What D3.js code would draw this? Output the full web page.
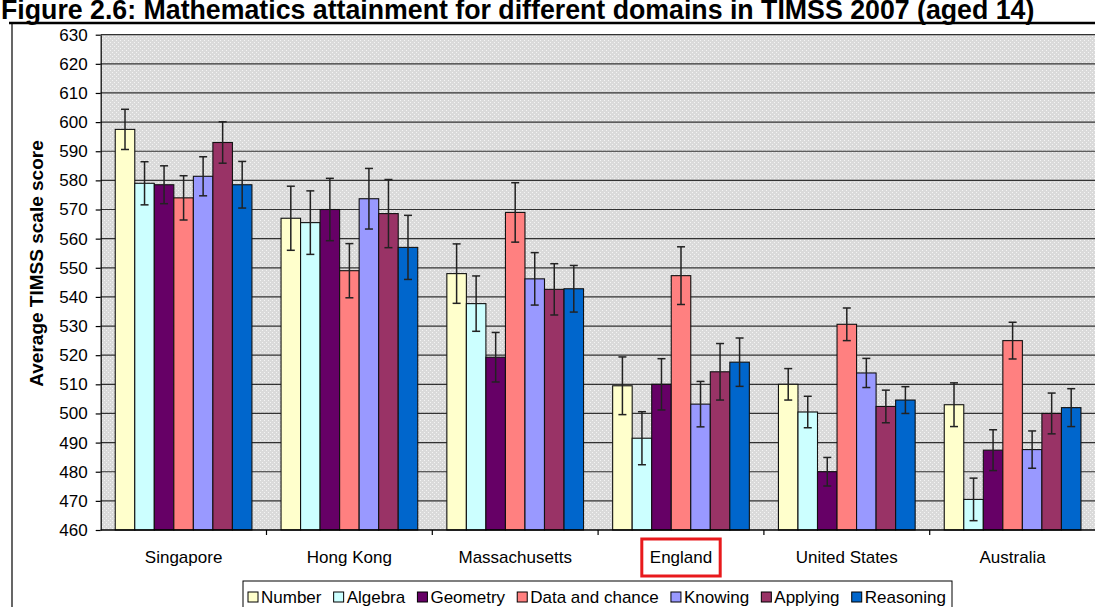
<!DOCTYPE html>
<html><head><meta charset="utf-8">
<script src="https://cdn.jsdelivr.net/npm/d3@7"></script>
<style>body{margin:0;background:#fff}svg{display:block;font-family:"Liberation Sans",Arial,sans-serif}</style>
</head><body><svg id="c" width="1095" height="607"></svg>
<script>
const titleText = "Figure 2.6: Mathematics attainment for different domains in TIMSS 2007 (aged 14)";
const yTitle = "Average TIMSS scale score";
const categories = ["Singapore","Hong Kong","Massachusetts","England","United States","Australia"];
const seriesNames = ["Number","Algebra","Geometry","Data and chance","Knowing","Applying","Reasoning"];
const seriesColors = ["#FFFFCC","#CCFFFF","#660066","#FF8080","#9999FF","#993366","#0066CC"];
const yTicks = [460,470,480,490,500,510,520,530,540,550,560,570,580,590,600,610,620,630];
const highlighted = "England";

// mean scores per domain, in category order
const numberVals    = [597.5, 567.0, 548.0, 509.5, 510.0, 503.0];
const algebraVals   = [579.0, 565.5, 537.7, 491.5, 500.5, 470.5];
const geometryVals  = [578.5, 570.0, 519.3, 510.0, 480.0, 487.4];
const dataVals      = [574.0, 549.0, 569.0, 547.3, 530.6, 525.0];
const knowingVals   = [581.4, 573.7, 546.2, 503.2, 513.9, 487.6];
const applyingVals  = [593.0, 568.6, 542.6, 514.3, 502.4, 500.0];
const reasoningVals = [578.5, 557.0, 542.8, 517.6, 504.6, 502.0];

// error bar half-widths
const numberErr    = [6.9, 11.0, 10.2, 9.9, 5.4, 7.5];
const algebraErr   = [7.4, 10.9, 9.5, 9.1, 5.4, 7.3];
const geometryErr  = [6.5, 10.7, 8.5, 8.8, 4.9, 7.0];
const dataErr      = [7.6, 9.3, 10.2, 9.9, 5.6, 6.3];
const knowingErr   = [6.7, 10.4, 9.0, 7.8, 5.0, 6.4];
const applyingErr  = [7.1, 11.7, 8.8, 9.7, 5.6, 7.0];
const reasoningErr = [8.0, 11.0, 8.0, 8.3, 4.6, 6.5];

const allVals = [numberVals, algebraVals, geometryVals, dataVals, knowingVals, applyingVals, reasoningVals];
const allErr  = [numberErr, algebraErr, geometryErr, dataErr, knowingErr, applyingErr, reasoningErr];

const svg = d3.select("#c");
const M = {left:100.7, right:1095.5, top:34.7, bottom:530};

const y = d3.scaleLinear().domain([460,630]).range([M.bottom, M.top]);
const x0 = d3.scaleBand().domain(categories).range([M.left, M.right]).paddingInner(0.1755).paddingOuter(0.0877);
const x1 = d3.scaleBand().domain(seriesNames).range([0, x0.bandwidth()]).padding(0);
const color = d3.scaleOrdinal().domain(seriesNames).range(seriesColors);

// title
const title = svg.append("text").attr("x",1).attr("y",18.5)
  .attr("font-weight","bold").attr("font-size",20).attr("fill","#000").text(titleText);
const tw = title.node().getComputedTextLength();
title.attr("font-size", 20 * 1034 / tw);
svg.append("line").attr("x1",9).attr("x2",1095).attr("y1",23).attr("y2",23)
  .attr("stroke","#000").attr("stroke-width",2.5);
svg.append("line").attr("x1",12).attr("x2",12).attr("y1",23).attr("y2",607)
  .attr("stroke","#000").attr("stroke-width",1.2);

// plot background pattern
const defs = svg.append("defs");
const pat = defs.append("pattern").attr("id","dots").attr("width",4).attr("height",4).attr("patternUnits","userSpaceOnUse");
pat.append("rect").attr("width",4).attr("height",4).attr("fill","#dadada");
pat.append("rect").attr("x",0).attr("y",0).attr("width",1).attr("height",1).attr("fill","#f4f4f4");
pat.append("rect").attr("x",2).attr("y",2).attr("width",1).attr("height",1).attr("fill","#f4f4f4");
svg.append("rect").attr("x",M.left).attr("y",M.top).attr("width",M.right-M.left).attr("height",M.bottom-M.top)
  .attr("fill","url(#dots)");

// gridlines
svg.append("g").selectAll("line").data(yTicks.filter(t => t > 460)).join("line")
  .attr("x1",M.left).attr("x2",M.right)
  .attr("y1",d => y(d)).attr("y2",d => y(d))
  .attr("stroke","#333").attr("stroke-width",1.2);

// bars
const groups = svg.append("g").selectAll("g").data(seriesNames).join("g");
groups.each(function(s, si){
  const g = d3.select(this);
  const rows = categories.map((c, ci) => ({c, v: allVals[si][ci], e: allErr[si][ci]}));
  g.selectAll("rect").data(rows).join("rect")
    .attr("x", d => x0(d.c) + x1(s))
    .attr("y", d => y(d.v))
    .attr("width", x1.bandwidth())
    .attr("height", d => y(460) - y(d.v))
    .attr("fill", color(s))
    .attr("stroke","#111").attr("stroke-width",1.1);
});
// error bars
groups.each(function(s, si){
  const g = d3.select(this);
  const rows = categories.map((c, ci) => ({c, v: allVals[si][ci], e: allErr[si][ci]}));
  const cx = d => x0(d.c) + x1(s) + x1.bandwidth()/2;
  const eb = g.append("g").selectAll("g").data(rows).join("g");
  eb.append("line").attr("x1",cx).attr("x2",cx).attr("y1",d => y(d.v + d.e)).attr("y2",d => y(d.v - d.e))
    .attr("stroke","#222").attr("stroke-width",1.5);
  eb.append("line").attr("x1",d => cx(d)-4).attr("x2",d => cx(d)+4).attr("y1",d => y(d.v + d.e)).attr("y2",d => y(d.v + d.e))
    .attr("stroke","#222").attr("stroke-width",1.5);
  eb.append("line").attr("x1",d => cx(d)-4).attr("x2",d => cx(d)+4).attr("y1",d => y(d.v - d.e)).attr("y2",d => y(d.v - d.e))
    .attr("stroke","#222").attr("stroke-width",1.5);
});

// y axis
const yAxis = svg.append("g").attr("transform",`translate(${M.left},0)`)
  .call(d3.axisLeft(y).tickValues(yTicks).tickSize(5).tickSizeOuter(0).tickPadding(8).tickFormat(d3.format("d")));
yAxis.selectAll("text").attr("font-size",17).attr("font-family","'Liberation Sans',Arial,sans-serif").attr("fill","#000");
yAxis.selectAll("line").attr("stroke","#000").attr("stroke-width",1.2);
yAxis.select(".domain").attr("stroke","#000").attr("stroke-width",1.2);

// x axis
svg.append("line").attr("x1",M.left).attr("x2",M.right).attr("y1",M.bottom).attr("y2",M.bottom)
  .attr("stroke","#000").attr("stroke-width",1.4);
const half = x0.step()*x0.paddingInner()/2;
svg.append("g").selectAll("line").data(categories.slice(1)).join("line")
  .attr("x1",d => x0(d)-half).attr("x2",d => x0(d)-half)
  .attr("y1",M.bottom).attr("y2",M.bottom+5)
  .attr("stroke","#000").attr("stroke-width",1.2);
const xl = svg.append("g").selectAll("text").data(categories).join("text")
  .attr("x",d => x0(d)+x0.bandwidth()/2).attr("y",563)
  .attr("text-anchor","middle").attr("font-size",17).attr("fill","#000").text(d => d);
// highlight box
xl.filter(d => d === highlighted).each(function(){
  const b = this.getBBox();
  svg.append("rect").attr("x",b.x-8).attr("y",539).attr("width",b.width+16).attr("height",37)
    .attr("fill","none").attr("stroke","#E8191C").attr("stroke-width",3);
});

// y title
svg.append("text").attr("transform","translate(42.5,263.5) rotate(-90)")
  .attr("text-anchor","middle").attr("font-weight","bold").attr("font-size",19).attr("fill","#000").text(yTitle);

// legend
const lg = svg.append("g");
lg.append("rect").attr("x",243).attr("y",581).attr("width",709).attr("height",40)
  .attr("fill","#fff").attr("stroke","#000").attr("stroke-width",1);
const items = lg.selectAll("g").data(seriesNames).join("g");
items.append("rect").attr("width",10).attr("height",10).attr("y",592)
  .attr("fill",d => color(d)).attr("stroke","#000").attr("stroke-width",1);
items.append("text").attr("y",603).attr("font-size",17).attr("fill","#000").text(d => d);
const widths = [];
items.select("text").each(function(){ widths.push(this.getComputedTextLength()); });
const startX = 248, endX = 946, sw = 10, gapA = 3;
const used = d3.sum(widths) + seriesNames.length*(sw+gapA);
const gapB = (endX - startX - used) / (seriesNames.length - 1);
let cur = startX;
items.each(function(d, i){
  const g = d3.select(this);
  g.select("rect").attr("x",cur);
  g.select("text").attr("x",cur+sw+gapA);
  cur += sw + gapA + widths[i] + gapB;
});
</script></body></html>
